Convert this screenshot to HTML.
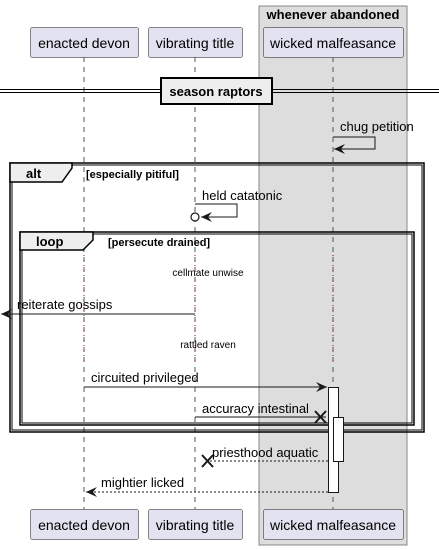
<!DOCTYPE html>
<html><head><style>body{margin:0;background:#fff}svg{display:block}text{font-family:"Liberation Sans",sans-serif}</style></head>
<body>
<svg width="439" height="550" viewBox="0 0 439 550" xmlns="http://www.w3.org/2000/svg">
<defs>
<marker id="ar" markerWidth="12" markerHeight="10" refX="11" refY="5" orient="auto" markerUnits="userSpaceOnUse"><path d="M0,0 L11,5 L0,10 L4,5 Z" fill="#181818"/></marker>
</defs>
<rect x="259" y="6" width="148" height="539" fill="#dddddd" stroke="#888" stroke-width="1"/>
<text x="333" y="19" font-size="13" font-weight="bold" text-anchor="middle" fill="#000">whenever abandoned</text>
<!-- lifelines -->
<g stroke="#555" stroke-dasharray="5,5" stroke-width="1">
<line x1="84" y1="57" x2="84" y2="509"/><line x1="195" y1="57" x2="195" y2="509"/><line x1="333" y1="57" x2="333" y2="509"/>
</g>
<g stroke="#a80036" stroke-dasharray="1,4" stroke-width="1">
<line x1="84" y1="255" x2="84" y2="365"/><line x1="195" y1="255" x2="195" y2="365"/><line x1="333" y1="255" x2="333" y2="365"/>
</g>
<rect x="84" y="256" width="1" height="0"/>
<!-- participants -->
<g fill="#e2e2f0" stroke="#181818" stroke-width="0.5">
<rect x="30.5" y="27.5" width="108" height="30" rx="2"/><rect x="148.5" y="27.5" width="94" height="30" rx="2"/><rect x="263.5" y="27.5" width="140" height="30" rx="2"/>
<rect x="30.5" y="509.5" width="108" height="30" rx="2"/><rect x="148.5" y="509.5" width="94" height="30" rx="2"/><rect x="263.5" y="509.5" width="140" height="30" rx="2"/>
</g>
<g font-size="14" text-anchor="middle" fill="#000">
<text x="84" y="48">enacted devon</text><text x="195" y="48">vibrating title</text><text x="333" y="48">wicked malfeasance</text>
<text x="84" y="530">enacted devon</text><text x="195" y="530">vibrating title</text><text x="333" y="530">wicked malfeasance</text>
</g>
<!-- divider -->
<line x1="0" y1="89.5" x2="439" y2="89.5" stroke="#000"/><line x1="0" y1="92.5" x2="439" y2="92.5" stroke="#000"/>
<rect x="161" y="78" width="111" height="26" fill="#eee" stroke="#000" stroke-width="2"/>
<text x="216" y="96" font-size="13" font-weight="bold" text-anchor="middle">season raptors</text>
<!-- chug petition -->
<text x="340" y="131" font-size="13">chug petition</text>
<polyline points="333,137 375,137 375,149 334,149" fill="none" stroke="#181818" marker-end="url(#ar)"/>
<!-- alt -->
<rect x="10" y="163" width="414" height="269" fill="none" stroke="#000" stroke-width="1.5"/>
<rect x="12" y="165" width="410" height="265" fill="none" stroke="#000" stroke-width="1"/>
<path d="M10,163 L72,163 L72,168 L62,182 L10,182 Z" fill="#eee" stroke="#000" stroke-width="1.5"/>
<text x="26" y="178" font-size="13" font-weight="bold">alt</text>
<text x="86" y="178" font-size="11" font-weight="bold">[especially pitiful]</text>
<!-- held catatonic -->
<text x="202" y="200" font-size="13">held catatonic</text>
<polyline points="195,204 237,204 237,217 201,217" fill="none" stroke="#181818" marker-end="url(#ar)"/>
<circle cx="195" cy="217" r="4" fill="#fff" stroke="#181818" stroke-width="1.2"/>
<!-- loop -->
<rect x="20" y="232" width="394" height="193" fill="none" stroke="#000" stroke-width="1.5"/>
<rect x="22" y="234" width="390" height="189" fill="none" stroke="#000" stroke-width="1"/>
<path d="M20,232 L93,232 L93,240 L83,250 L20,250 Z" fill="#eee" stroke="#000" stroke-width="1.5"/>
<text x="36" y="246" font-size="13" font-weight="bold">loop</text>
<text x="108" y="246" font-size="11" font-weight="bold">[persecute drained]</text>
<text x="208" y="276" font-size="10" text-anchor="middle">cellmate unwise</text>
<text x="17" y="309" font-size="13">reiterate gossips</text>
<line x1="195" y1="314" x2="1" y2="314" stroke="#181818" marker-end="url(#ar)"/>
<text x="208" y="348" font-size="10" text-anchor="middle">rattled raven</text>
<text x="91" y="382" font-size="13">circuited privileged</text>
<line x1="84" y1="387" x2="327" y2="387" stroke="#181818" marker-end="url(#ar)"/>
<text x="202" y="413" font-size="13">accuracy intestinal</text>
<line x1="195" y1="417" x2="326" y2="417" stroke="#181818"/>
<path d="M315,411 L326,423 M315,423 L326,411" stroke="#181818" stroke-width="2"/>
<!-- activations -->
<rect x="328.5" y="387.5" width="10" height="105" fill="#fff" stroke="#181818"/>
<rect x="333.5" y="417.5" width="10" height="44" fill="#fff" stroke="#181818"/>
<text x="212" y="457" font-size="13">priesthood aquatic</text>
<line x1="328" y1="461" x2="207" y2="461" stroke="#181818" stroke-dasharray="2,2"/>
<path d="M202,455 L213,467 M202,467 L213,455" stroke="#181818" stroke-width="2"/>
<text x="101" y="487" font-size="13">mightier licked</text>
<line x1="328" y1="492" x2="86" y2="492" stroke="#181818" stroke-dasharray="2,2" marker-end="url(#ar)"/>
</svg>
</body></html>
